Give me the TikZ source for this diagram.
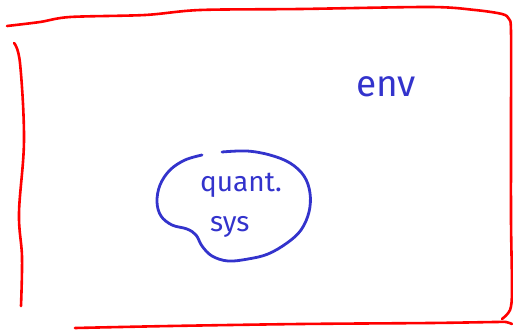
\documentclass[tikz,border=0pt]{standalone}
\usepackage{fontspec}
\setmainfont{Fira Sans}
\definecolor{sketchred}{RGB}{255,0,0}
\definecolor{sketchblue}{RGB}{51,51,204}
\tikzset{
  redline/.style={draw=sketchred,line width=2.6pt,line cap=round,line join=round},
  blueline/.style={draw=sketchblue,line width=2.8pt,line cap=round,line join=round},
  hand/.style={text=sketchblue,font=\fontsize{28}{30}\selectfont,inner sep=0pt,anchor=base west},
  bighand/.style={hand,font=\fontsize{37}{40}\selectfont}
}
\begin{document}
\begin{tikzpicture}[x=1pt,y=-1pt]
\useasboundingbox (0,0) rectangle (513,329);
% environment box
\draw[redline] plot[smooth,tension=0.5] coordinates {(7,26)(40,22)(70,17)(145,15)(200,10)(300,9)(430,7)(475,10)(502,14)(509,19)(511,32)(511,120)(511,220)(512,290)(510,310)(502,319)};
\draw[redline] plot[smooth,tension=0.5] coordinates {(75,328)(170,326)(300,324)(430,323)(495,322)(506,322)(512,324)};
\draw[redline] plot[smooth,tension=0.6] coordinates {(14,43)(20,63)(24,140)(19,213)(22,257)(21,306)};
% quantum system blob
\draw[blueline] plot[smooth,tension=0.6] coordinates {(202,155)(185,160)(170,170)(160,185)(157,202)(161,216)(172,225)(187,229)(196,235)(202,246)(212,256)(228,261)(248,259)(268,254)(287,243)(301,230)(309,212)(310,193)(304,176)(290,163)(270,155)(247,151)(222,152)};
\node[bighand] (env) at (356,96) {env};
\node[hand] (quant) at (200,191) {quant.};
\node[hand] (sys) at (210,231) {sys};
\end{tikzpicture}
\end{document}
